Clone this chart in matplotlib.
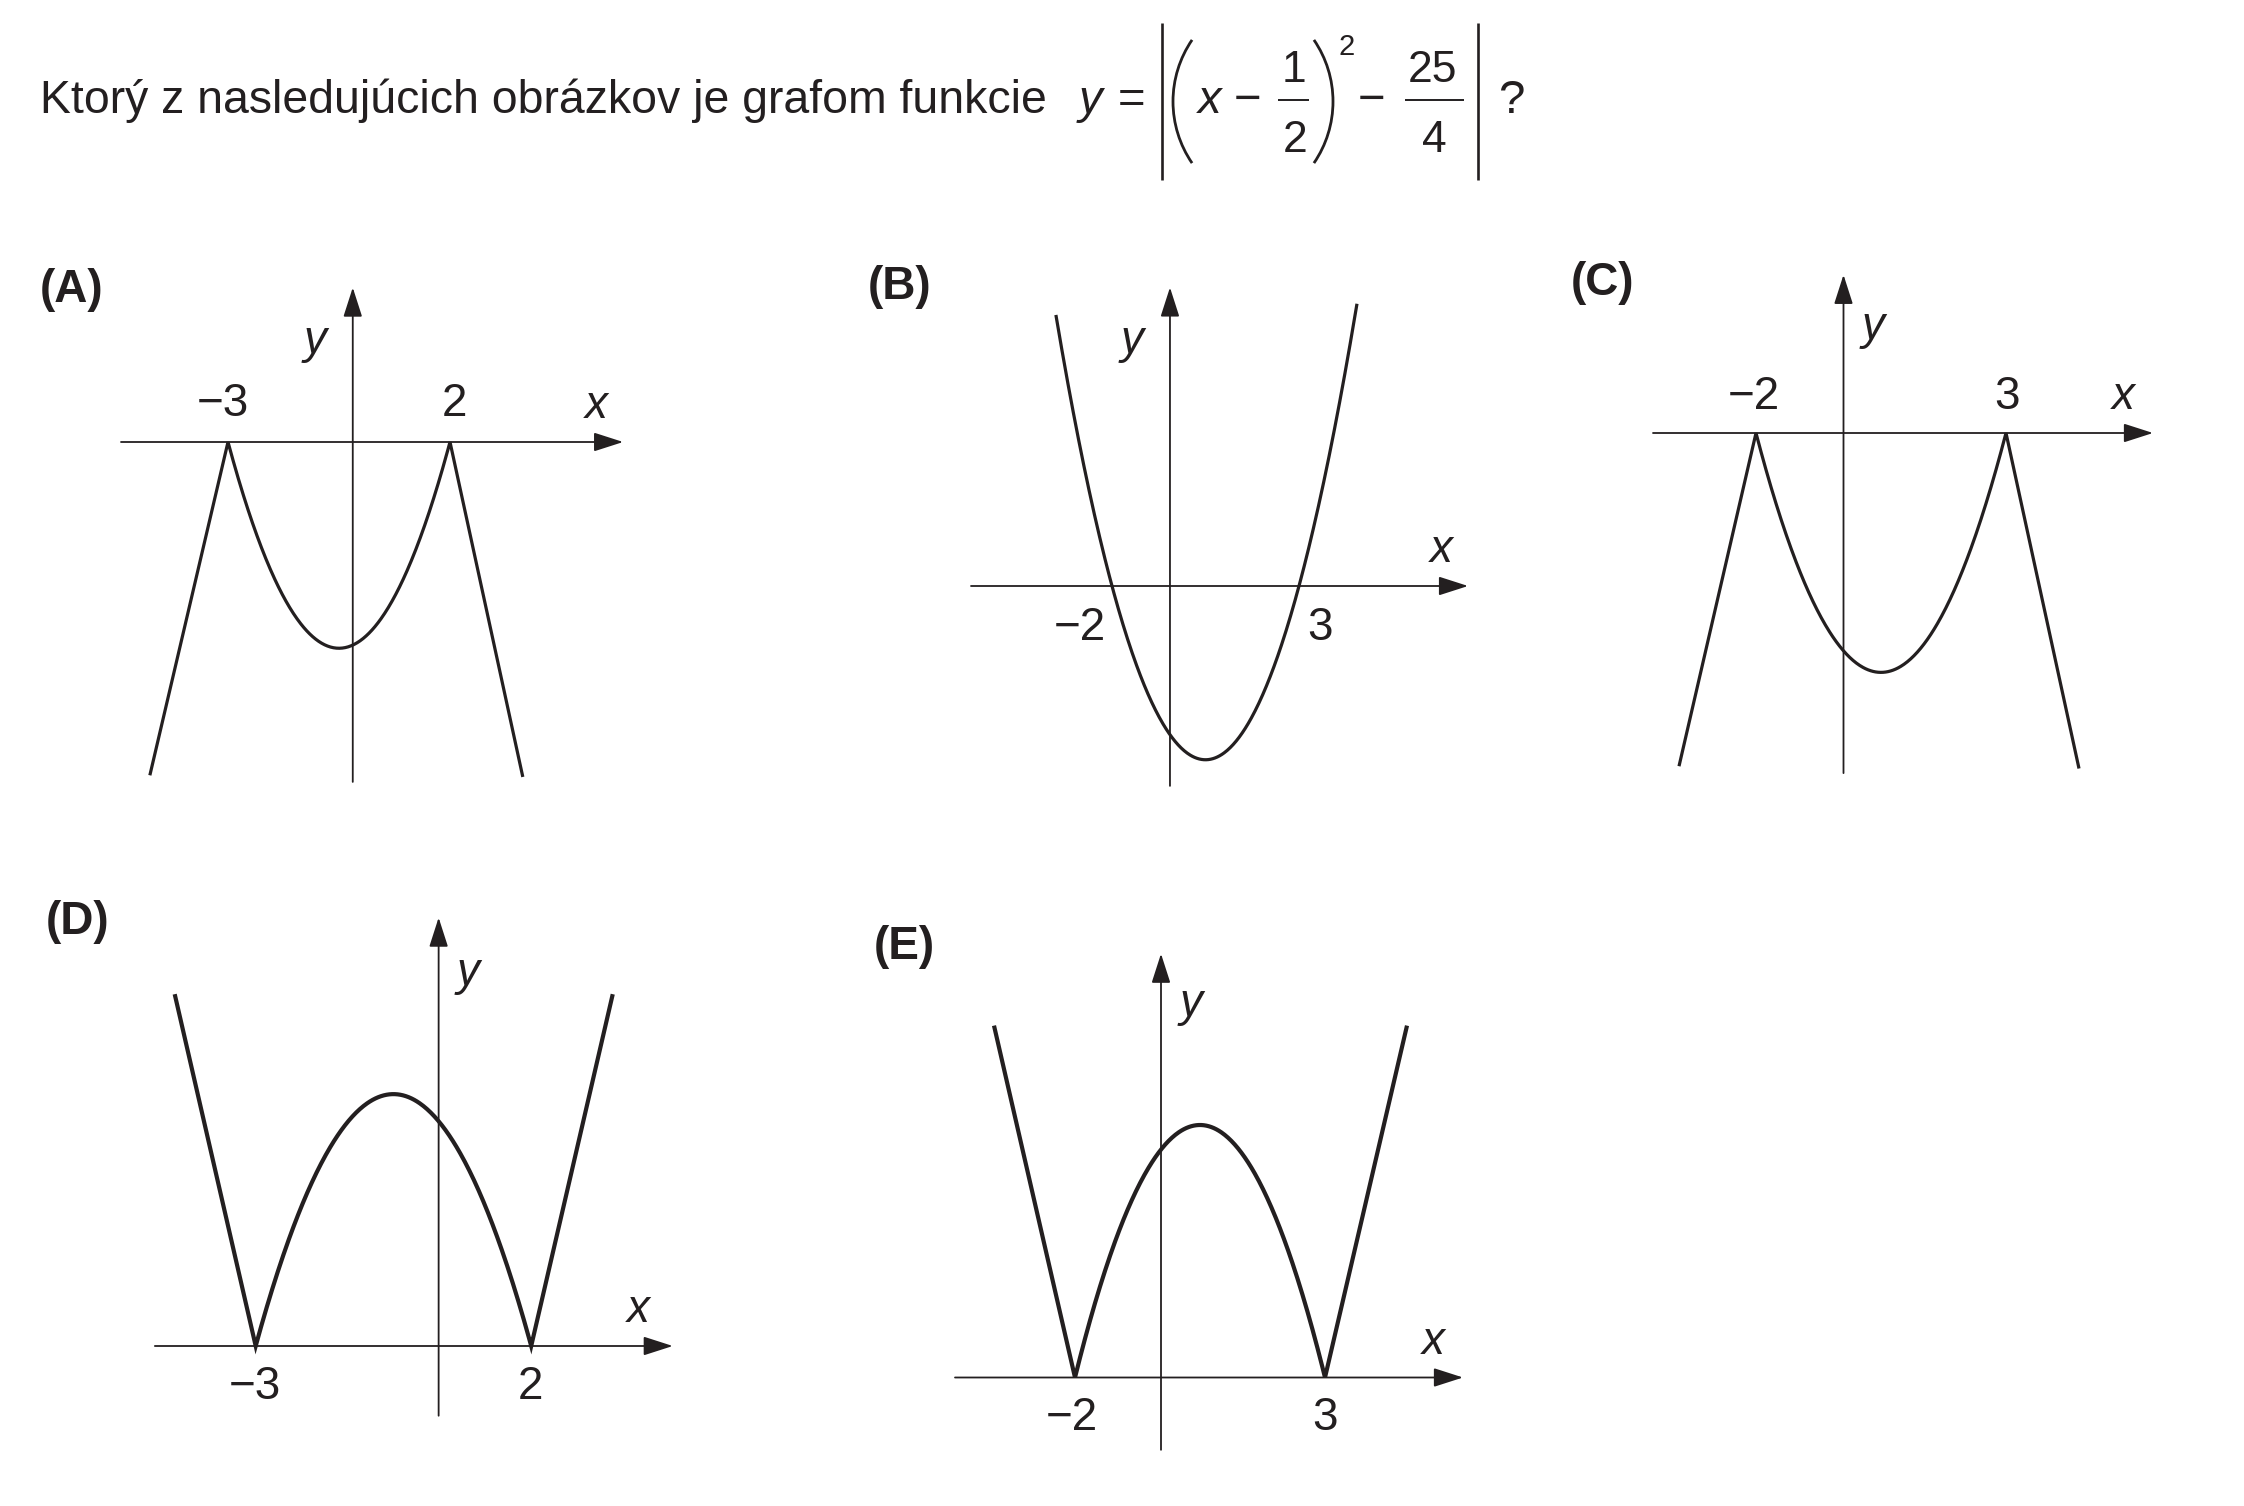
import numpy as np
import matplotlib.pyplot as plt
from matplotlib.patches import Arc

plt.rcParams['font.family'] = ['Liberation Sans', 'DejaVu Sans']

W, H = 2244, 1506
INK = '#231f20'

# texty
question = 'Ktorý z nasledujúcich obrázkov je grafom funkcie'
panel_names = ['(A)', '(B)', '(C)', '(D)', '(E)']

# popísané nulové body na každom obrázku
roots_left = [-3, -2, -2, -3, -2]
roots_right = [2, 3, 3, 2, 3]
root_labels_left = ['−3', '−2', '−2', '−3', '−2']
root_labels_right = ['2', '3', '3', '2', '3']
# 1 = oblúk pod osou x, -1 = oblúk nad osou x
arc_sign = [1, 1, 1, -1, -1]

# konce rovných vonkajších vetiev (odčítané z obrázka), B nemá vetvy
end_left_x = [-4.76, None, -3.54, -4.47, -3.62]
end_left_y = [-10.1, None, -8.7, 8.73, 8.71]
end_right_x = [3.64, None, 4.46, 3.48, 4.64]
end_right_y = [-10.15, None, -8.76, 8.73, 8.71]
# B je celá parabola na tomto intervale
span_B = [-3.5, 4.55]

# rozsahy nakreslených osí (obrázky sú len náčrty, os y nie je presne v nule)
yaxis_x = [-0.19, -0.45, -0.25, 0.32, -0.28]
yaxis_lo = [-10.3, -7.19, -8.88, -1.73, -1.79]
yaxis_hi = [4.68, 10.74, 4.13, 10.63, 10.49]
xaxis_lo = [-5.41, -5.77, -4.06, -4.83, -4.4]
xaxis_hi = [5.9, 7.52, 5.94, 4.57, 5.76]
xlabel_x = [5.29, 6.8, 5.34, 3.94, 5.16]
ylabel_y = [3.06, 8.81, 2.77, 9.26, 9.25]

# rozloženie: poloha počiatku v pixeloch a mierka (px na jednotku)
origin_px = [(361.2, 442), (1186.8, 586), (1856, 433), (421, 1346), (1175, 1377.5)]
unit_px = [(44.4, 33), (37.4, 27.8), (50, 38.3), (55.1, 40.3), (50, 40.4)]
root_label_dy = [38.5, -42.5, 36, -41, -40.5]
root_label_dx = [(-5, 4), (-32, 21), (-2, 1), (-1, -1), (-3, 0)]
ylabel_dx = [-38, -38, 29.5, 29.5, 29.6]
name_pos = [(40, 290), (868, 287), (1571, 283), (46, 922), (874, 947)]
curve_lw = [2.3, 2.3, 2.3, 3.0, 3.0]

# vzorec v zadaní: (text, stred x, účaří y, veľkosť, kurzíva)
formula_parts = [
    ('y', 1090, 113, 34, True),
    ('=', 1132, 113, 34, False),
    ('x', 1210, 113, 34, True),
    ('−', 1248, 113, 34, False),
    ('1', 1294, 82, 32, False),
    ('2', 1295, 152, 32, False),
    ('2', 1347, 55, 21, False),
    ('−', 1372, 113, 34, False),
    ('25', 1433, 82, 32, False),
    ('4', 1434, 152, 32, False),
    ('?', 1511, 113, 34, False),
]


def fig_xy(px, py):
    return px / W, 1 - py / H


fig = plt.figure(figsize=(W / 100, H / 100), dpi=100)
fig.patch.set_facecolor('white')

# zadanie
x0, y0 = fig_xy(40, 113)
fig.text(x0, y0, question, fontsize=33.4, color=INK, ha='left', va='baseline')
for s, cx, by, fs, it in formula_parts:
    tx, ty = fig_xy(cx, by)
    fig.text(tx, ty, s, fontsize=fs, color=INK, ha='center', va='baseline',
             style='italic' if it else 'normal')

# absolútna hodnota, zátvorky a zlomkové čiary vzorca
top = fig.add_axes([0, 0, 1, 1])
top.set_xlim(0, W)
top.set_ylim(H, 0)
top.axis('off')
for bx in (1162, 1478):
    top.plot([bx, bx], [23, 180], color=INK, lw=1.9, solid_capstyle='butt')
for x1, x2 in ((1278, 1309), (1405, 1464)):
    top.plot([x1, x2], [100, 100], color=INK, lw=1.4, solid_capstyle='butt')
top.add_patch(Arc((1282, 101.5), 218, 218, theta1=145.6, theta2=214.4, color=INK, lw=2.0))
top.add_patch(Arc((1224, 101.5), 218, 218, theta1=-34.4, theta2=34.4, color=INK, lw=2.0))

arrow = dict(arrowstyle='-|>,head_length=1.4,head_width=0.45', mutation_scale=13,
             color=INK, lw=1.3, shrinkA=0, shrinkB=0)

for i in range(5):
    ox, oy = origin_px[i]
    sx, sy = unit_px[i]
    ax = fig.add_axes([0, 0, 1, 1])
    ax.set_xlim(-ox / sx, (W - ox) / sx)
    ax.set_ylim((oy - H) / sy, oy / sy)
    ax.axis('off')

    # osi so šípkami
    ax.annotate('', xy=(xaxis_hi[i], 0), xytext=(xaxis_lo[i], 0), arrowprops=arrow)
    ax.annotate('', xy=(yaxis_x[i], yaxis_hi[i]), xytext=(yaxis_x[i], yaxis_lo[i]), arrowprops=arrow)

    # graf
    r1, r2 = roots_left[i], roots_right[i]
    if end_left_x[i] is None:
        xs = np.linspace(span_B[0], span_B[1], 400)
        ys = (xs - r1) * (xs - r2)
    else:
        xa = np.linspace(r1, r2, 300)
        ya = arc_sign[i] * (xa - r1) * (xa - r2)
        xs = np.concatenate([[end_left_x[i]], xa, [end_right_x[i]]])
        ys = np.concatenate([[end_left_y[i]], ya, [end_right_y[i]]])
    ax.plot(xs, ys, color=INK, lw=curve_lw[i], solid_joinstyle='miter', solid_capstyle='butt')

    # popisy
    dxl, dxr = root_label_dx[i]
    for r, lab, dx in [(r1, root_labels_left[i], dxl), (r2, root_labels_right[i], dxr)]:
        ax.annotate(lab, xy=(r, 0), xytext=(dx, root_label_dy[i]), textcoords='offset pixels',
                    ha='center', va='center', fontsize=33, color=INK)
    ax.annotate('x', xy=(xlabel_x[i], 0), xytext=(0, 36), textcoords='offset pixels',
                ha='center', va='center', fontsize=33, style='italic', color=INK)
    ax.annotate('y', xy=(yaxis_x[i], ylabel_y[i]), xytext=(ylabel_dx[i], 0), textcoords='offset pixels',
                ha='center', va='center', fontsize=33, style='italic', color=INK)

    nx, ny = fig_xy(*name_pos[i])
    fig.text(nx, ny, panel_names[i], fontsize=33, fontweight='bold', color=INK, ha='left', va='center')

fig.savefig('out.png', dpi=100, facecolor='white')
